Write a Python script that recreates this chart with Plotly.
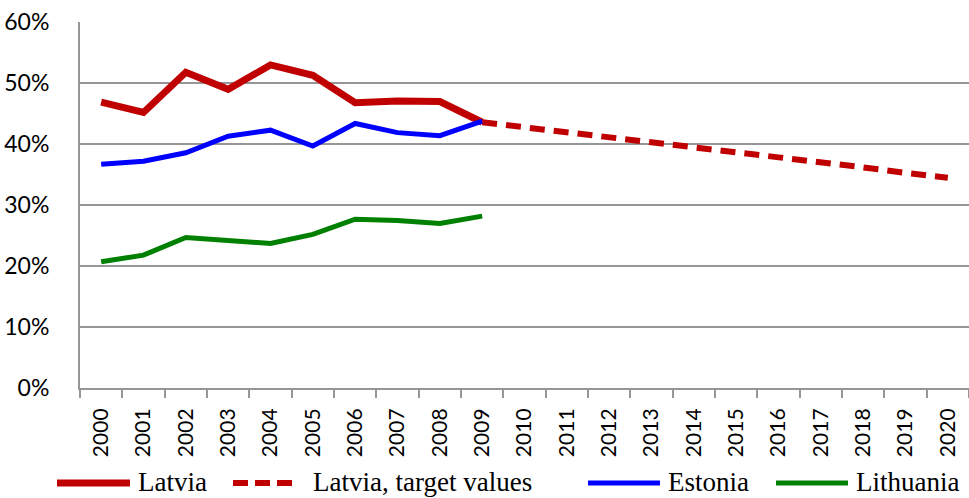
import plotly.graph_objects as go

years = [str(y) for y in range(2000, 2021)]
hist_years = years[:10]
target_years = years[9:]

latvia = [46.9, 45.2, 51.8, 49.0, 53.0, 51.3, 46.8, 47.1, 47.0, 43.6]
latvia_target = [43.6, 42.8, 42.0, 41.1, 40.3, 39.5, 38.7, 37.8, 37.0, 36.2, 35.3, 34.5]
estonia = [36.7, 37.2, 38.6, 41.3, 42.3, 39.7, 43.4, 41.9, 41.4, 43.8]
lithuania = [20.7, 21.8, 24.7, 24.3, 23.7, 25.2, 27.7, 27.5, 27.0, 28.2]

y_ticks = [0, 10, 20, 30, 40, 50, 60]
y_ticktext = [f"{v}%" for v in y_ticks]

RED = "#C00000"
BLUE = "#0000FF"
GREEN = "#008000"

fig = go.Figure()
fig.add_trace(go.Scatter(x=hist_years, y=latvia, mode="lines", name="Latvia",
                         line=dict(color=RED, width=7)))
fig.add_trace(go.Scatter(x=target_years, y=latvia_target, mode="lines",
                         name="Latvia, target values",
                         line=dict(color=RED, width=6, dash="15px,9px")))
fig.add_trace(go.Scatter(x=hist_years, y=estonia, mode="lines", name="Estonia",
                         line=dict(color=BLUE, width=5)))
fig.add_trace(go.Scatter(x=hist_years, y=lithuania, mode="lines", name="Lithuania",
                         line=dict(color=GREEN, width=5)))

W, H = 969, 498
L, R, T, B = 80, 0, 22, 110
pw = W - L - R
ph = H - T - B


def px_to_paper_x(px):
    return (px - L) / pw


def py_to_paper_y(py):
    return (H - B - py) / ph


legend_y = py_to_paper_y(483)
legend_items = [
    # (sample start, sample end, text start, label, color, dash, width)
    (57, 130, 136, "Latvia", RED, "solid", 7),
    (233, 295, 311, "Latvia, target values", RED, "15px,7px", 6),
    (588, 660, 666, "Estonia", BLUE, "solid", 5),
    (776, 848, 854, "Lithuania", GREEN, "solid", 5),
]
shapes = []
annotations = []
for x0, x1, tx, label, color, dash, w in legend_items:
    shapes.append(dict(type="line", xref="paper", yref="paper",
                       x0=px_to_paper_x(x0), x1=px_to_paper_x(x1),
                       y0=legend_y, y1=legend_y,
                       line=dict(color=color, width=w, dash=dash)))
    annotations.append(dict(xref="paper", yref="paper", x=px_to_paper_x(tx),
                            y=py_to_paper_y(482), xanchor="left", yanchor="middle",
                            text=label, showarrow=False,
                            font=dict(family="Liberation Serif, DejaVu Serif, serif",
                                      size=27, color="black")))

fig.update_layout(
    width=W, height=H,
    margin=dict(l=L, r=R, t=T, b=B),
    plot_bgcolor="white", paper_bgcolor="white",
    showlegend=False,
    shapes=shapes,
    annotations=annotations,
    xaxis=dict(
        type="category", categoryorder="array", categoryarray=years,
        range=[-0.5, 20.5],
        showgrid=False,
        showline=True, linecolor="#969696", linewidth=2,
        ticks="outside", tickson="boundaries", ticklen=8, tickwidth=2,
        tickcolor="#969696",
        tickangle=-90,
        tickfont=dict(family="Lato", size=21, color="black"),
        ticklabelstandoff=10,
    ),
    yaxis=dict(
        range=[0, 60.05], tickmode="array", tickvals=y_ticks, ticktext=y_ticktext,
        showgrid=True, gridcolor="#969696", gridwidth=2,
        showline=True, linecolor="#969696", linewidth=2,
        zeroline=False,
        ticks="",
        tickfont=dict(family="Lato", size=23, color="black"),
        ticklabelstandoff=24,
    ),
)

fig.write_html("out.html", config={"displayModeBar": False},
               post_script="document.body.style.margin='0';")
